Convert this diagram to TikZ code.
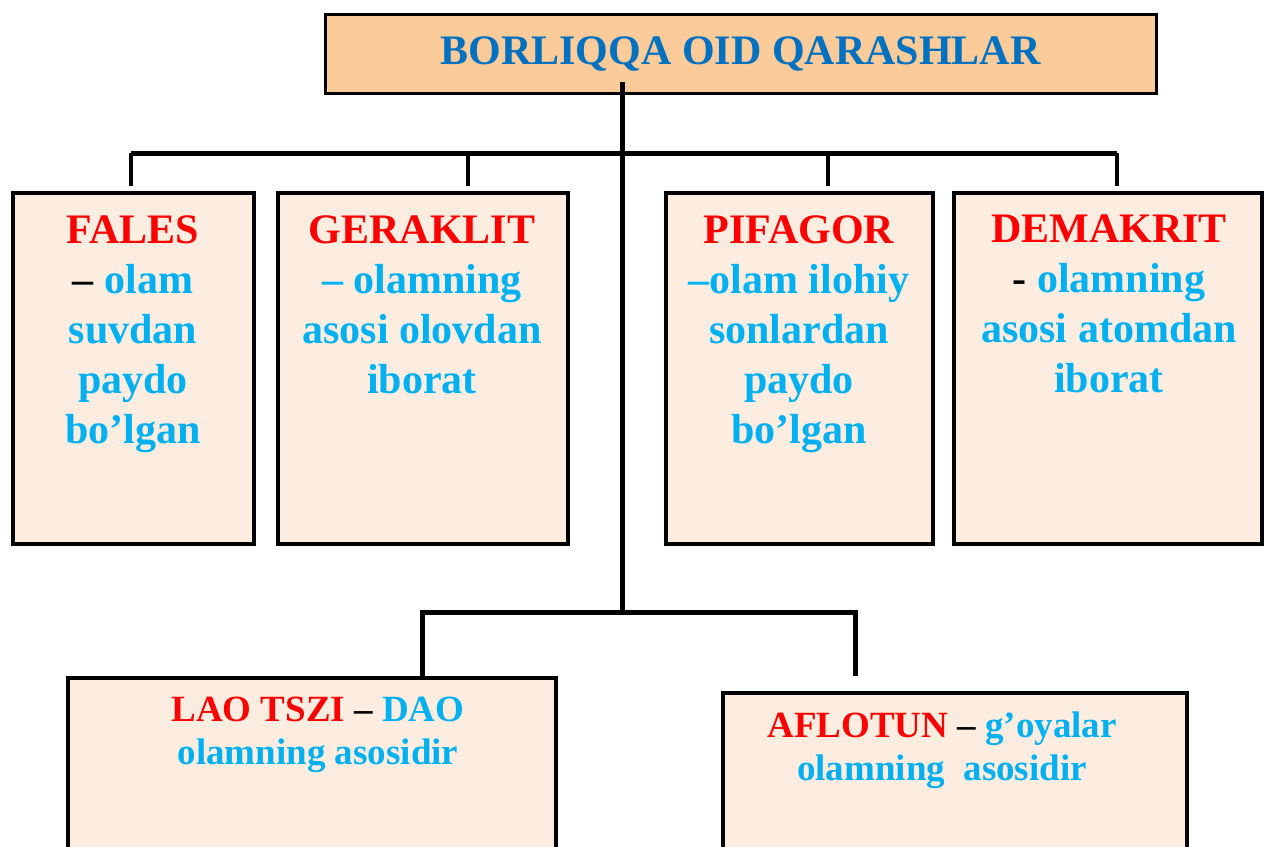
\documentclass[tikz,border=0pt]{standalone}
\usepackage{fontspec}
\setmainfont{Liberation Serif}
\definecolor{tblue}{RGB}{0,112,192}
\definecolor{cy}{RGB}{0,176,240}
\definecolor{rd}{RGB}{255,0,0}
\definecolor{peach}{RGB}{251,203,153}
\definecolor{light}{RGB}{253,237,224}
\begin{document}
\begin{tikzpicture}[x=1pt,y=1pt,
  box/.style={draw=black, line width=3.5pt, fill=light, inner sep=0pt},
  titlebox/.style={draw=black, line width=3pt, fill=peach, inner sep=0pt,
     font=\fontsize{42}{50}\selectfont\bfseries, text=tblue},
  bigtxt/.style={inner sep=0pt, align=center, anchor=north, font=\fontsize{42}{50}\selectfont\bfseries},
  smalltxt/.style={inner sep=0pt, align=center, anchor=north, font=\fontsize{37}{43}\selectfont\bfseries},
  conn/.style={draw=black, line width=5pt},
  drop/.style={draw=black, line width=4pt}]
\useasboundingbox (0,0) rectangle (1266,-846);
\clip (0,0) rectangle (1266,-846);

% title
\node[titlebox, minimum width=831, minimum height=79] (title) at (740.5,-53.5) {BORLIQQA OID QARASHLAR};

% first row boxes
\node[box, minimum width=241, minimum height=351] (fales) at (133.5,-368.5) {};
\node[box, minimum width=290, minimum height=351] (geraklit) at (423,-368.5) {};
\node[box, minimum width=267, minimum height=351] (pifagor) at (799.5,-368.5) {};
\node[box, minimum width=308, minimum height=351] (demakrit) at (1108,-368.5) {};

% bottom boxes
\node[box, minimum width=488, minimum height=240] (lao) at (312,-798) {};
\node[box, minimum width=464, minimum height=220] (aflotun) at (955,-803) {};

% texts
\node[bigtxt] (falesT) at (133,-215) {\textcolor{rd}{FALES}\\\textcolor{black}{–} \textcolor{cy}{olam}\\\textcolor{cy}{suvdan}\\\textcolor{cy}{paydo}\\\textcolor{cy}{bo’lgan}};
\node[bigtxt] (geraklitT) at (422,-215) {\textcolor{rd}{GERAKLIT}\\\textcolor{cy}{– olamning}\\\textcolor{cy}{asosi olovdan}\\\textcolor{cy}{iborat}};
\node[bigtxt] (pifagorT) at (799,-215) {\textcolor{rd}{PIFAGOR}\\\textcolor{cy}{–olam ilohiy}\\\textcolor{cy}{sonlardan}\\\textcolor{cy}{paydo}\\\textcolor{cy}{bo’lgan}};
\node[bigtxt] (demakritT) at (1109,-215) {\textcolor{rd}{DEMAKRIT}\\\textcolor{black}{-} \textcolor{cy}{olamning}\\\textcolor{cy}{asosi atomdan}\\\textcolor{cy}{iborat}};
\node[smalltxt] (laoT) at (318,-697) {\textcolor{rd}{LAO TSZI} \textcolor{black}{–} \textcolor{cy}{DAO}\\\textcolor{cy}{olamning asosidir}};
\node[smalltxt] (aflotunT) at (942,-712) {\textcolor{rd}{AFLOTUN} \textcolor{black}{–} \textcolor{cy}{g’oyalar}\\\textcolor{cy}{olamning\ \ asosidir}};

% connectors
\coordinate (t0) at (622,-82);
\coordinate (j1) at (622,-153);
\coordinate (j2) at (622,-612);
\coordinate (b1) at (131,-153);
\coordinate (b2) at (468,-153);
\coordinate (b3) at (828,-153);
\coordinate (b4) at (1117,-153);
\coordinate (e1) at (131,-186);
\coordinate (e2) at (468,-186);
\coordinate (e3) at (828,-186);
\coordinate (e4) at (1117,-186);
\coordinate (l0) at (422,-612);
\coordinate (l1) at (422,-676);
\coordinate (r0) at (855,-612);
\coordinate (r1) at (855,-676);

\draw[conn] (t0) -- (j2);
\draw[conn] (b1) -- (b4);
\draw[drop] (b1) -- (e1);
\draw[drop] (b2) -- (e2);
\draw[drop] (b3) -- (e3);
\draw[drop] (b4) -- (e4);
\draw[conn] (l1) -- (l0) -- (r0) -- (r1);
\end{tikzpicture}
\end{document}
